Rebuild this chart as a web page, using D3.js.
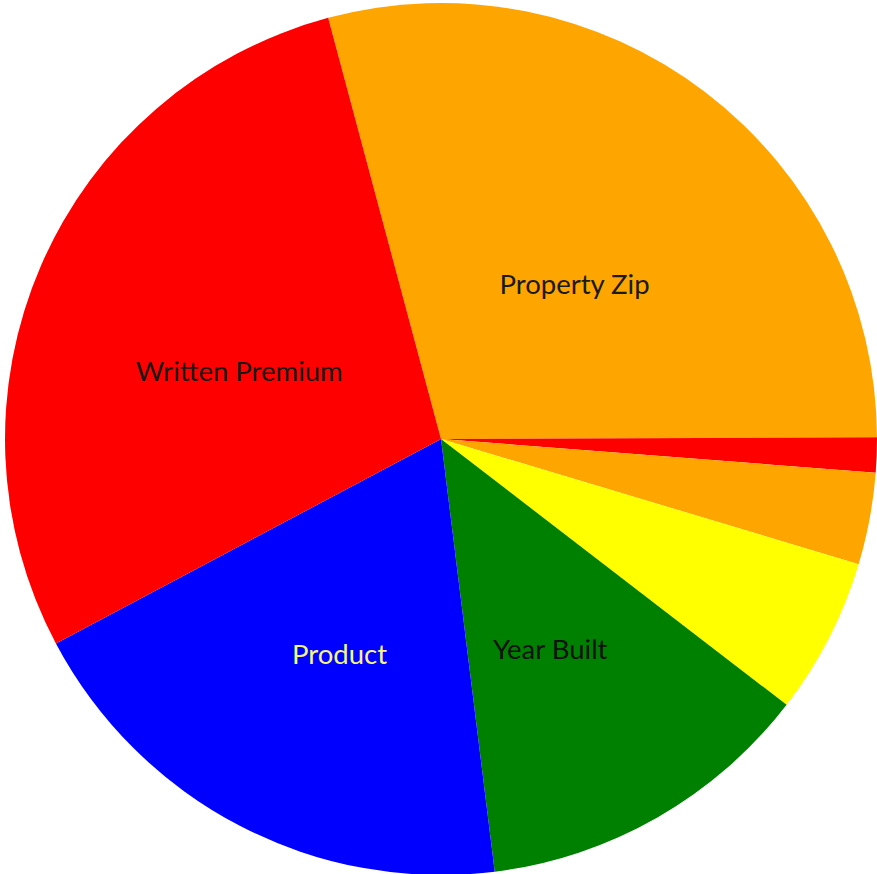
<!DOCTYPE html>
<html>
<head>
<meta charset="utf-8">
<script src="https://cdn.jsdelivr.net/npm/d3@7"></script>
<style>
  html, body { margin: 0; padding: 0; background: #fff; }
  svg { display: block; }
</style>
</head>
<body>
<svg id="chart" width="877" height="874"></svg>
<script>
// Slice order clockwise, starting at the Property Zip slice
const categories = ["Property Zip", "Other A", "Other B", "Other C", "Year Built", "Product", "Written Premium"];
const values = [29.1, 1.3, 3.4, 5.8, 12.6, 19.2, 28.6];
const labels = ["Property Zip", "", "", "", "Year Built", "Product", "Written Premium"];
const colors = ["#FFA500", "#FF0000", "#FFA500", "#FFFF00", "#008000", "#0000FF", "#FF0000"];
const labelColors = ["#1a1a1a", "#1a1a1a", "#1a1a1a", "#1a1a1a", "#111111", "#F5F57A", "#1a1a1a"];
const firstSliceAngleDeg = -15.0;

const width = 877, height = 874;
const cx = 441, cy = 439, radius = 436;

const svg = d3.select("#chart");
const g = svg.append("g").attr("transform", `translate(${cx},${cy})`);

const start = firstSliceAngleDeg * Math.PI / 180;
const pie = d3.pie().sort(null).value(d => d.value)
  .startAngle(start).endAngle(start + 2 * Math.PI);

const data = categories.map((c, i) => ({ name: c, value: values[i], label: labels[i], color: colors[i], labelColor: labelColors[i] }));
const arcs = pie(data);

const arc = d3.arc().innerRadius(0).outerRadius(radius);
const labelArc = d3.arc().innerRadius(220).outerRadius(220);

g.selectAll("path.slice").data(arcs).join("path")
  .attr("class", "slice")
  .attr("d", arc)
  .attr("fill", d => d.data.color);

g.selectAll("text.lbl").data(arcs.filter(d => d.data.label)).join("text")
  .attr("class", "lbl")
  .attr("transform", d => { const [x, y] = labelArc.centroid(d); return `translate(${x},${y + 19})`; })
  .attr("text-anchor", "middle")
  .attr("dominant-baseline", "central")
  .attr("font-family", "Lato, 'Open Sans', sans-serif")
  .attr("font-size", 27.5)
  .attr("fill", d => d.data.labelColor)
  .text(d => d.data.label);
</script>
</body>
</html>
